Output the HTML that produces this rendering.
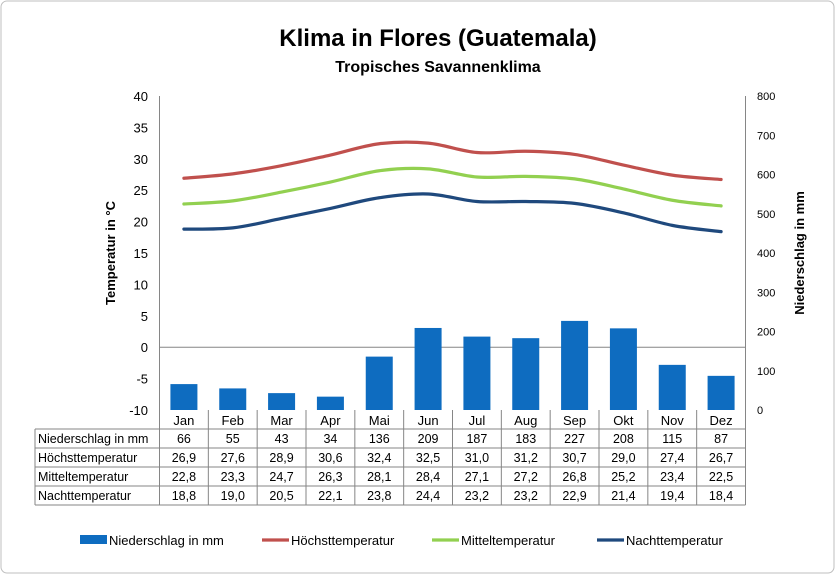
<!DOCTYPE html>
<html><head><meta charset="utf-8"><style>
body{margin:0;background:#fff;font-family:"Liberation Sans",sans-serif}
svg text{font-family:"Liberation Sans",sans-serif}
</style></head><body>
<svg id="c" width="836" height="575">
<rect x="1" y="1" width="833" height="572" rx="6" fill="#fff" stroke="#bfbfbf"/>
<text x="438" y="46" font-size="24" font-weight="bold" text-anchor="middle">Klima in Flores (Guatemala)</text>
<text x="438" y="72" font-size="16" font-weight="bold" text-anchor="middle">Tropisches Savannenklima</text>
<text transform="translate(115,253) rotate(-90)" font-size="13" font-weight="bold" text-anchor="middle">Temperatur in °C</text>
<text transform="translate(804,253) rotate(-90)" font-size="13" font-weight="bold" text-anchor="middle">Niederschlag in mm</text>
</svg>
<script>
const months=["Jan","Feb","Mar","Apr","Mai","Jun","Jul","Aug","Sep","Okt","Nov","Dez"];
const rain=[66,55,43,34,136,209,187,183,227,208,115,87];
const tmax=[26.9,27.6,28.9,30.6,32.4,32.5,31.0,31.2,30.7,29.0,27.4,26.7];
const tmid=[22.8,23.3,24.7,26.3,28.1,28.4,27.1,27.2,26.8,25.2,23.4,22.5];
const tmin=[18.8,19.0,20.5,22.1,23.8,24.4,23.2,23.2,22.9,21.4,19.4,18.4];
const leftTicks=[40,35,30,25,20,15,10,5,0,-5,-10];
const rightTicks=[800,700,600,500,400,300,200,100,0];
const svg=document.getElementById('c');const NS="http://www.w3.org/2000/svg";
const X0=159.5,X1=745.5,YT=96,YB=410;
const cw=(X1-X0)/months.length;
const xc=i=>X0+cw*(i+0.5);
const yL=v=>YB-(v+10)/50*(YB-YT);
const yR=v=>YB-v/800*(YB-YT);
function mk(t,a,txt){const e=document.createElementNS(NS,t);for(const k in a)e.setAttribute(k,a[k]);if(txt!==undefined)e.textContent=txt;svg.appendChild(e);return e;}
let e;
e=mk('line',{x1:X0,y1:YT,x2:X0,y2:YB,stroke:'#868686'});


e=mk('line',{x1:X1,y1:YT,x2:X1,y2:YB,stroke:'#868686'});


e=mk('line',{x1:X0,y1:yL(0),x2:X1,y2:yL(0),stroke:'#868686'});


leftTicks.forEach(v=>{e=mk('text',{x:148,y:yL(v)+5,'font-size':13,'text-anchor':'end'},String(v));

});
rightTicks.forEach(v=>{e=mk('text',{x:757,y:yR(v)+4,'font-size':11},String(v));

});
rain.forEach((v,i)=>{e=mk('rect',{x:xc(i)-13.5,y:yR(v),width:27,height:YB-yR(v),fill:'#0e6cc0'});

});
function path(arr){const p=arr.map((v,i)=>[xc(i),yL(v)]);let d='M'+p[0][0]+','+p[0][1];
for(let i=0;i<p.length-1;i++){const p0=p[Math.max(0,i-1)],p1=p[i],p2=p[i+1],p3=p[Math.min(p.length-1,i+2)];
const c1=[p1[0]+(p2[0]-p0[0])/6,p1[1]+(p2[1]-p0[1])/6],c2=[p2[0]-(p3[0]-p1[0])/6,p2[1]-(p3[1]-p1[1])/6];
d+=` C${c1[0]},${c1[1]} ${c2[0]},${c2[1]} ${p2[0]},${p2[1]}`;}return d;}
[[tmax,'#c0504d','line-hoechsttemperatur'],[tmid,'#92d050','line-mitteltemperatur'],[tmin,'#1f497d','line-nachttemperatur']].forEach(s=>{
e=mk('path',{d:path(s[0]),fill:'none',stroke:s[1],'stroke-width':3.2,'stroke-linecap':'round'});

});
// table
const TL=35,RH=19;
const rows=[["Niederschlag in mm",rain.map(String)],["Höchsttemperatur",tmax.map(v=>v.toFixed(1).replace('.',','))],["Mitteltemperatur",tmid.map(v=>v.toFixed(1).replace('.',','))],["Nachttemperatur",tmin.map(v=>v.toFixed(1).replace('.',','))]];
const st={stroke:'#868686','stroke-width':1};
months.forEach((m,i)=>{e=mk('text',{x:xc(i),y:YB+15,'font-size':13,'text-anchor':'middle'},m);

});
for(let i=0;i<=months.length;i++){e=mk('line',Object.assign({x1:X0+cw*i,y1:YB,x2:X0+cw*i,y2:YB+RH*5},st));

}
e=mk('line',Object.assign({x1:TL,y1:YB+RH,x2:TL,y2:YB+RH*5},st));


for(let r=1;r<=5;r++){e=mk('line',Object.assign({x1:TL,y1:YB+RH*r,x2:X1,y2:YB+RH*r},st));

}
rows.forEach((row,r)=>{const y=YB+RH*(r+1)+14;
e=mk('text',{x:TL+3,y:y,'font-size':12.5},row[0]);


row[1].forEach((v,i)=>{e=mk('text',{x:xc(i),y:y,'font-size':12.5,'text-anchor':'middle'},v);

});});
// legend
const leg=[['Niederschlag in mm','#0e6cc0',80,'bar'],['Höchsttemperatur','#c0504d',262,'line'],['Mitteltemperatur','#92d050',432,'line'],['Nachttemperatur','#1f497d',597,'line']];
leg.forEach(l=>{if(l[3]==='bar'){e=mk('rect',{x:l[2],y:535,width:27,height:9,fill:l[1]});}
else{e=mk('line',{x1:l[2],y1:540,x2:l[2]+27,y2:540,stroke:l[1],'stroke-width':3.2});}


e=mk('text',{x:l[2]+29,y:545,'font-size':13},l[0]);

});
</script>
</body></html>
